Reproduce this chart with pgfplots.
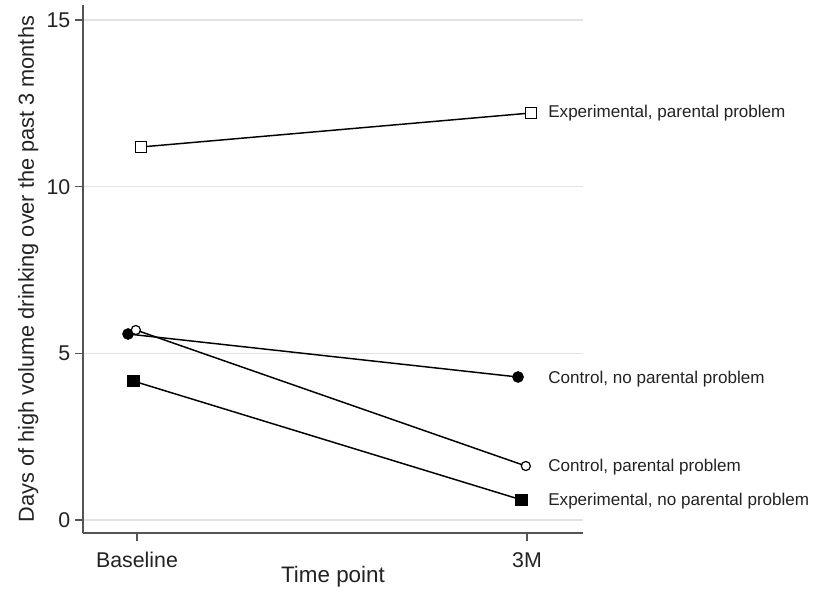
\documentclass[border=0pt]{standalone}
\usepackage{fontspec}
\setmainfont{Liberation Sans}
\usepackage{pgfplots}
\pgfplotsset{compat=1.18}
\definecolor{axgray}{HTML}{555555}
\definecolor{gridgray}{HTML}{E3E3E3}
\definecolor{txt}{HTML}{222222}
\begin{document}
\begin{tikzpicture}[x=1pt,y=1pt]
\begin{axis}[
  at={(0pt,0pt)}, anchor=south west,
  scale only axis,
  width=375pt, height=396pt,
  xmin=-0.1385, xmax=1.1436,
  ymin=-0.39, ymax=15.45,
  axis x line=bottom, axis y line=left,
  axis line style={axgray, line width=0.8pt, -},
  xtick={0,1}, xticklabels={Baseline,3M},
  ytick={0,5,10,15},
  tick align=outside,
  major tick length=6pt,
  tick style={axgray, line width=0.8pt},
  ymajorgrids,
  grid style={gridgray, line width=0.8pt},
  /pgf/number format/assume math mode=true,
  ticklabel style={font=\fontsize{16}{19}\selectfont, text=txt},
  xticklabel style={yshift=-5pt},
  xlabel={Time point}, ylabel={Days of high volume drinking over the past 3 months},
  xlabel style={font=\fontsize{16.8}{19}\selectfont, text=txt, at={([yshift=-33pt]axis description cs:0.5,0)}, anchor=center},
  ylabel style={font=\fontsize{16.3}{19}\selectfont, text=txt, at={([xshift=-41pt]axis description cs:0,0.5)}, anchor=center},
  clip=false,
]
% Control, no parental problem
\addplot[black, line width=1.1pt, mark=*, mark size=3.8pt, mark options={fill=black}]
  coordinates {(-0.023,5.58) (0.977,4.29)};
% Control, parental problem
\addplot[black, line width=1.1pt, mark=*, mark size=3.4pt, mark options={fill=white, line width=0.9pt}]
  coordinates {(-0.003,5.70) (0.997,1.62)};
% Experimental, no parental problem
\addplot[black, line width=1.1pt, mark=square*, mark size=4.3pt, mark options={fill=black}]
  coordinates {(-0.010,4.17) (0.987,0.60)};
% Experimental, parental problem
\addplot[black, line width=1.1pt, mark=square*, mark size=4.0pt, mark options={fill=white, line width=0.9pt}]
  coordinates {(0.010,11.19) (1.010,12.21)};
\node[anchor=west, inner sep=0pt, text=txt, font=\fontsize{12.8}{15}\selectfont] at (axis cs:1.054,12.21) {Experimental, parental problem};
\node[anchor=west, inner sep=0pt, text=txt, font=\fontsize{12.8}{15}\selectfont] at (axis cs:1.054,4.23) {Control, no parental problem};
\node[anchor=west, inner sep=0pt, text=txt, font=\fontsize{12.8}{15}\selectfont] at (axis cs:1.054,1.59) {Control, parental problem};
\node[anchor=west, inner sep=0pt, text=txt, font=\fontsize{12.8}{15}\selectfont] at (axis cs:1.054,0.57) {Experimental, no parental problem};
\end{axis}
\pgfresetboundingbox
\path[use as bounding box] (-62.25pt,-51pt) rectangle (549.75pt,399.75pt);
\end{tikzpicture}
\end{document}
